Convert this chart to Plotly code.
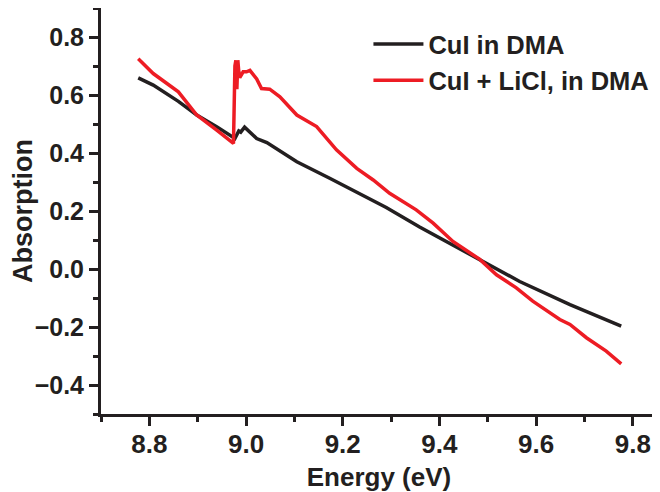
import plotly.graph_objects as go

# CuI in DMA (black)
energy_cui = [8.777, 8.808, 8.860, 8.898, 8.940, 8.977, 8.985, 8.989, 8.997, 9.010, 9.022, 9.043,
              9.105, 9.173, 9.242, 9.290, 9.359, 9.483, 9.566, 9.670, 9.776]
abs_cui = [0.659, 0.634, 0.578, 0.531, 0.490, 0.450, 0.476, 0.472, 0.489, 0.470, 0.450, 0.436,
           0.370, 0.313, 0.255, 0.212, 0.145, 0.034, -0.043, -0.123, -0.197]

# CuI + LiCl in DMA (red)
energy_licl = [8.777, 8.808, 8.860, 8.898, 8.940, 8.974, 8.977, 8.979, 8.981, 8.983, 8.985, 8.987,
               8.994, 9.001, 9.008, 9.022, 9.032, 9.049, 9.070, 9.105, 9.146, 9.187, 9.229,
               9.263, 9.297, 9.352, 9.387, 9.428, 9.469, 9.483, 9.518, 9.559, 9.593, 9.649,
               9.670, 9.704, 9.745, 9.776]
abs_licl = [0.725, 0.674, 0.611, 0.531, 0.478, 0.433, 0.700, 0.720, 0.620, 0.720, 0.680, 0.660,
            0.680, 0.680, 0.685, 0.655, 0.622, 0.620, 0.594, 0.531, 0.491, 0.411, 0.347,
            0.307, 0.261, 0.204, 0.158, 0.095, 0.049, 0.034, -0.020, -0.065, -0.111, -0.174,
            -0.191, -0.237, -0.283, -0.327]

font = "Liberation Sans, Arial, sans-serif"
ink = "#231f20"

fig = go.Figure()
fig.add_trace(go.Scatter(x=energy_cui, y=abs_cui, mode="lines", name="CuI in DMA",
                         line=dict(color=ink, width=3.5)))
fig.add_trace(go.Scatter(x=energy_licl, y=abs_licl, mode="lines", name="CuI + LiCl, in DMA",
                         line=dict(color="#ed1c24", width=3.5)))

axis_common = dict(showline=True, linewidth=3, linecolor=ink, mirror=False,
                   ticks="outside", ticklen=9, tickwidth=3, tickcolor=ink,
                   showgrid=False, zeroline=False, automargin=False)

fig.update_xaxes(range=[8.7, 9.85], dtick=0.2, tick0=8.8, tickformat=".1f", ticklabelstandoff=-4,
                 tickfont=dict(family=font, size=26, color=ink, weight="bold"),
                 minor=dict(dtick=0.1, tick0=8.7, ticks="outside", ticklen=5, tickwidth=3, tickcolor=ink),
                 title=dict(text="Energy (eV)", font=dict(family=font, size=26, color=ink, weight="bold"),
                            standoff=10),
                 **axis_common)
fig.update_yaxes(range=[-0.5, 0.9], dtick=0.2, tick0=0, tickformat=".1f",
                 tickfont=dict(family=font, size=25, color=ink, weight="bold"),
                 minor=dict(dtick=0.1, tick0=0, ticks="outside", ticklen=5, tickwidth=3, tickcolor=ink),
                 title=dict(text="Absorption", font=dict(family=font, size=27, color=ink, weight="bold"),
                            standoff=12),
                 **axis_common)

# page body adds an 8px offset, so the figure is drawn 8px smaller
fig.update_layout(width=652, height=484, margin=dict(l=93, r=3, t=0, b=78),
                  plot_bgcolor="white", paper_bgcolor="white",
                  legend=dict(x=0.481, y=0.968, xanchor="left", yanchor="top", itemwidth=50,
                              bgcolor="rgba(0,0,0,0)", tracegroupgap=0,
                              font=dict(family=font, size=25.5, color=ink, weight="bold")))

fig.write_html("out.html")
